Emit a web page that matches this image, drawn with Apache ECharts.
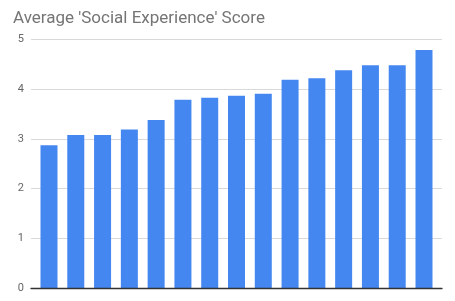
<!DOCTYPE html>
<html><head><meta charset="utf-8">
<script src="https://cdn.jsdelivr.net/npm/echarts@6/dist/echarts.min.js"></script>
<style>html,body{margin:0;padding:0;background:#fff}#c{width:455px;height:301px}</style>
</head><body><div id="c"></div>
<script>
var categories = ['1','2','3','4','5','6','7','8','9','10','11','12','13','14','15'];
var scores = [2.87, 3.08, 3.08, 3.19, 3.38, 3.79, 3.83, 3.87, 3.91, 4.19, 4.22, 4.38, 4.48, 4.48, 4.79];
var yTicks = [0, 1, 2, 3, 4, 5];
var titleText = "Average 'Social Experience' Score";

var chart = echarts.init(document.getElementById('c'), null, {renderer: 'canvas'});
chart.setOption({
  animation: false,
  title: {text: titleText, left: 8, top: 5, textStyle: {fontFamily: 'Roboto', fontSize: 17, fontWeight: 'normal', color: '#757575'}},
  grid: [
    {left: 31, right: 13, top: 39.5, bottom: 13},
    {left: 35.6, right: 17.6, top: 39.5, bottom: 13}
  ],
  xAxis: [
    {gridIndex: 0, type: 'category', data: categories, axisLine: {lineStyle: {color: '#333', width: 1.3}}, axisTick: {show: false}, axisLabel: {show: false}, z: 10},
    {gridIndex: 1, type: 'category', data: categories, axisLine: {show: false}, axisTick: {show: false}, axisLabel: {show: false}}
  ],
  yAxis: [
    {gridIndex: 0, type: 'value', min: yTicks[0], max: yTicks[yTicks.length-1], interval: 1,
     axisLine: {show: false}, axisTick: {show: false},
     axisLabel: {margin: 7, color: '#666', fontFamily: 'Roboto', fontSize: 11},
     splitLine: {lineStyle: {color: '#d9d9d9', width: 1}}},
    {gridIndex: 1, type: 'value', min: yTicks[0], max: yTicks[yTicks.length-1], interval: 1, show: false, splitLine: {show: false}}
  ],
  series: [{
    type: 'bar', xAxisIndex: 1, yAxisIndex: 1, data: scores,
    barWidth: 17,
    itemStyle: {color: '#4487F0'}
  }]
});
</script></body></html>
